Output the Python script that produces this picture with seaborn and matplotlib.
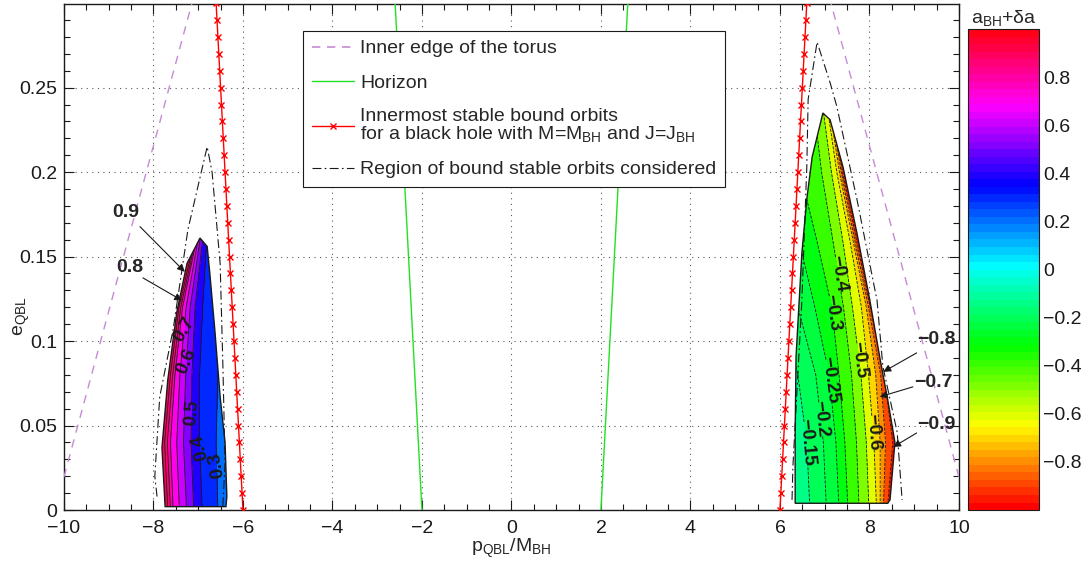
import numpy as np
import matplotlib
matplotlib.use('Agg')
import matplotlib.pyplot as plt
from matplotlib.colors import ListedColormap, Normalize
from matplotlib.patches import Polygon
from matplotlib.lines import Line2D
from matplotlib.ticker import MultipleLocator
import seaborn as sns

sns.set_theme(style='white')
plt.rcParams['font.family'] = ['Liberation Sans', 'DejaVu Sans']
plt.rcParams['mathtext.fontset'] = 'custom'
plt.rcParams['mathtext.rm'] = 'Liberation Sans'
plt.rcParams['mathtext.it'] = 'Liberation Sans:italic'
plt.rcParams['mathtext.bf'] = 'Liberation Sans:bold'

# ---- data ----
# inner edge of the torus (mirrored left / right)
torus_e = [0.0196, 0.10, 0.20, 0.30]
torus_p_right = [10.0, 9.18, 8.16, 7.14]
torus_p_left = [-10.0, -9.18, -8.16, -7.14]

# horizon
horizon_e = [0.0, 0.10, 0.20, 0.30]
horizon_p_right = [2.0, 2.2, 2.4, 2.6]
horizon_p_left = [-2.0, -2.2, -2.4, -2.6]

# innermost stable bound orbits (one marker every 0.01 in e)
isbo_e = [0.00, 0.01, 0.02, 0.03, 0.04, 0.05, 0.06, 0.07, 0.08, 0.09, 0.10,
          0.11, 0.12, 0.13, 0.14, 0.15, 0.16, 0.17, 0.18, 0.19, 0.20,
          0.21, 0.22, 0.23, 0.24, 0.25, 0.26, 0.27, 0.28, 0.29, 0.30]
isbo_p_right = [6.00, 6.02, 6.04, 6.06, 6.08, 6.10, 6.12, 6.14, 6.16, 6.18, 6.20,
                6.22, 6.24, 6.26, 6.28, 6.30, 6.32, 6.34, 6.36, 6.38, 6.40,
                6.42, 6.44, 6.46, 6.48, 6.50, 6.52, 6.54, 6.56, 6.58, 6.60]
isbo_p_left = [-6.00, -6.02, -6.04, -6.06, -6.08, -6.10, -6.12, -6.14, -6.16, -6.18, -6.20,
               -6.22, -6.24, -6.26, -6.28, -6.30, -6.32, -6.34, -6.36, -6.38, -6.40,
               -6.42, -6.44, -6.46, -6.48, -6.50, -6.52, -6.54, -6.56, -6.58, -6.60]

# region of bound stable orbits considered (dash-dot)
region_l_p = [-7.92, -7.97, -7.86, -7.56, -7.23, -6.80, -6.69, -6.51, -6.45, -6.40, -6.45]
region_l_e = [0.008, 0.020, 0.067, 0.107, 0.166, 0.215, 0.200, 0.146, 0.087, 0.028, 0.002]
region_r_p = [6.27, 6.29, 6.49, 6.60, 6.63, 6.83, 7.12, 7.27, 7.72, 8.17, 8.30, 8.62, 8.73]
region_r_e = [0.006, 0.026, 0.124, 0.203, 0.243, 0.277, 0.253, 0.239, 0.184, 0.124, 0.085, 0.046, 0.006]

# outlines of the two coloured patches
patch_l_p = [-7.74, -7.81, -7.68, -7.48, -7.25, -6.96, -6.80, -6.74, -6.63, -6.51, -6.40, -6.36, -6.38]
patch_l_e = [0.002, 0.037, 0.077, 0.117, 0.146, 0.161, 0.156, 0.140, 0.107, 0.067, 0.040, 0.008, 0.002]
patch_r_p = [6.34, 6.34, 6.36, 6.49, 6.60, 6.72, 6.96, 7.12, 7.41, 7.72, 8.01, 8.24, 8.41, 8.57, 8.46, 8.41]
patch_r_e = [0.004, 0.046, 0.091, 0.152, 0.184, 0.209, 0.235, 0.231, 0.203, 0.164, 0.124, 0.089, 0.065, 0.040, 0.006, 0.004]

# a_BH+da : p position of each contour value along rows of constant e
left_rows_e = [0.0, 0.04, 0.08, 0.12, 0.165]
left_vals = [1.0, 0.9, 0.85, 0.8, 0.7, 0.6, 0.5, 0.4, 0.3, 0.2]
left_rows_p = [
    [-7.85, -7.68, -7.62, -7.56, -7.42, -7.26, -7.10, -6.91, -6.56, -6.25],
    [-7.92, -7.75, -7.69, -7.62, -7.48, -7.33, -7.16, -6.97, -6.60, -6.30],
    [-7.78, -7.62, -7.57, -7.52, -7.41, -7.28, -7.14, -6.97, -6.56, -6.35],
    [-7.56, -7.43, -7.39, -7.35, -7.27, -7.18, -7.07, -6.90, -6.55, -6.40],
    [-7.10, -7.04, -7.02, -7.00, -6.97, -6.93, -6.88, -6.80, -6.55, -6.45],
]
left_lines = [0.3, 0.4, 0.5, 0.6, 0.7, 0.8, 0.85, 0.9]

right_rows_e = [0.0, 0.04, 0.08, 0.12, 0.16, 0.20, 0.24]
right_vals = [-0.1, -0.15, -0.2, -0.25, -0.3, -0.4, -0.5, -0.6, -0.7, -0.8, -0.9, -1.0]
right_rows_p = [
    [6.22, 6.67, 7.04, 7.32, 7.52, 7.77, 7.99, 8.16, 8.24, 8.31, 8.40, 8.62],
    [6.12, 6.60, 6.97, 7.25, 7.45, 7.71, 7.93, 8.10, 8.24, 8.36, 8.52, 8.72],
    [5.90, 6.40, 6.80, 7.10, 7.32, 7.60, 7.81, 7.98, 8.14, 8.25, 8.33, 8.52],
    [5.60, 6.05, 6.40, 6.78, 7.16, 7.42, 7.62, 7.82, 7.93, 7.98, 8.02, 8.18],
    [5.30, 5.70, 6.05, 6.42, 6.82, 7.18, 7.40, 7.56, 7.63, 7.67, 7.71, 7.85],
    [5.20, 5.55, 5.85, 6.15, 6.45, 6.93, 7.15, 7.27, 7.33, 7.37, 7.40, 7.52],
    [5.30, 5.60, 5.90, 6.20, 6.50, 6.75, 6.95, 7.05, 7.10, 7.13, 7.15, 7.27],
]
right_lines = [-0.9, -0.8, -0.7, -0.6, -0.5, -0.4, -0.3, -0.25, -0.2, -0.15]

cbar_ticks = [-0.8, -0.6, -0.4, -0.2, 0, 0.2, 0.4, 0.6, 0.8]

# inline label spots (level -> point on that line)
left_lab = {0.3: (-6.55, 0.028), 0.4: (-6.94, 0.038), 0.5: (-7.17, 0.058),
            0.6: (-7.26, 0.088), 0.7: (-7.32, 0.107)}
right_lab = {-0.15: (6.63, 0.040), -0.2: (6.93, 0.054), -0.25: (7.12, 0.077),
             -0.3: (7.16, 0.117), -0.4: (7.30, 0.140), -0.5: (7.78, 0.089),
             -0.6: (8.07, 0.046)}

# ---- figure ----
fs = 14
fig = plt.figure(figsize=(10.86, 5.75), dpi=100)
ax = fig.add_axes([0.0589, 0.1130, 0.8241, 0.88])
cax = fig.add_axes([0.8913, 0.1130, 0.0654, 0.8365])

cmap = ListedColormap(plt.cm.hsv(np.linspace(0, 1, 64)))
norm = Normalize(-1, 1)


def minus(s):
    return s.replace('-', '\u2212')


def fmt_level(v):
    return minus(f'{round(v, 2):g}')


def draw_patch(rows_p, rows_e, vals, edges, lows, out_p, out_e, lines, labs, upward):
    P = np.array(rows_p)
    E = np.repeat(np.array(rows_e)[:, None], P.shape[1], axis=1)
    A = np.tile(np.array(vals), (P.shape[0], 1))
    xy = np.column_stack([out_p, out_e])
    clip = Polygon(xy, closed=True, transform=ax.transData)
    cf = ax.contourf(P, E, A, levels=edges,
                     colors=[cmap(norm(v)) for v in lows], zorder=1)
    cf.set_clip_path(clip)
    plain = sorted(v for v in lines if v not in labs)
    cl = ax.contour(P, E, A, levels=plain, colors='k', linewidths=0.6, zorder=2)
    cl.set_clip_path(clip)
    for lv, pos in labs.items():
        c1 = ax.contour(P, E, A, levels=[lv], colors='k', linewidths=0.6, zorder=2)
        c1.set_clip_path(clip)
        txts = c1.clabel(manual=[pos], fmt=fmt_level, fontsize=13.5,
                         inline=True, inline_spacing=2, colors='k')
        for t in txts:
            t.set_fontweight('bold')
            r = t.get_rotation() % 360
            # left patch labels read upwards, right patch labels downwards
            if upward and r > 180:
                t.set_rotation(r - 180)
            elif not upward and r < 180:
                t.set_rotation(r + 180)
    ax.add_patch(Polygon(xy, closed=True, fill=False, ec='k', lw=1.0, zorder=3))


draw_patch(left_rows_p, left_rows_e, left_vals,
           [0.15, 0.3, 0.4, 0.5, 0.6, 0.7, 0.8, 0.85, 0.9, 1.05],
           [0.2, 0.3, 0.4, 0.5, 0.6, 0.7, 0.8, 0.85, 0.9],
           patch_l_p, patch_l_e, left_lines, left_lab, True)
draw_patch(right_rows_p, right_rows_e, right_vals,
           [-1.05, -0.9, -0.8, -0.7, -0.6, -0.5, -0.4, -0.3, -0.25, -0.2, -0.15, -0.05],
           [-1.0, -0.9, -0.8, -0.7, -0.6, -0.5, -0.4, -0.3, -0.25, -0.2, -0.15],
           patch_r_p, patch_r_e, right_lines, right_lab, False)

# arrow labels
arrow_txt = ['0.9', '0.8', '-0.8', '-0.7', '-0.9']
arrow_txt_xy = [(-8.62, 0.176), (-8.525, 0.1434), (9.50, 0.1007), (9.42, 0.0752), (9.50, 0.0504)]
arrow_tail = [(-8.30, 0.1677), (-8.235, 0.1374), (9.055, 0.093), (8.97, 0.0729), (9.055, 0.0456)]
arrow_tip = [(-7.30, 0.141), (-7.36, 0.124), (8.31, 0.0818), (8.23, 0.067), (8.53, 0.0373)]
for s, txy, tail, tip in zip(arrow_txt, arrow_txt_xy, arrow_tail, arrow_tip):
    ax.text(txy[0], txy[1], minus(s), fontsize=fs, fontweight='bold',
            ha='center', va='center', zorder=6)
    ax.annotate('', xy=tip, xytext=tail, zorder=6,
                arrowprops=dict(arrowstyle='-|>', color='k', lw=0.8,
                                mutation_scale=11, shrinkA=0, shrinkB=0))

# curves
torus_c = '#c68ad6'
horizon_c = '#22e022'
dashdot = (0, (8, 3, 1.5, 3))
for tp in (torus_p_left, torus_p_right):
    sns.lineplot(x=tp, y=torus_e, sort=False, estimator=None, ax=ax,
                 color=torus_c, lw=1.0, ls=(0, (6, 5)), zorder=4)
for hp in (horizon_p_left, horizon_p_right):
    sns.lineplot(x=hp, y=horizon_e, sort=False, estimator=None, ax=ax,
                 color=horizon_c, lw=1.0, zorder=4)
for rp, re in ((region_l_p, region_l_e), (region_r_p, region_r_e)):
    sns.lineplot(x=rp, y=re, sort=False, estimator=None, ax=ax,
                 color='k', lw=0.8, ls=dashdot, zorder=4)
for ip in (isbo_p_left, isbo_p_right):
    sns.lineplot(x=ip, y=isbo_e, sort=False, estimator=None, ax=ax,
                 color='red', lw=1.0, marker='x', markersize=5,
                 markeredgecolor='red', markeredgewidth=1.0, zorder=5)

# axes cosmetics
ax.set_xlim(-10, 10)
ax.set_ylim(0, 0.2995)
xt = list(range(-10, 11, 2))
ax.set_xticks(xt)
ax.set_xticklabels([minus(str(v)) for v in xt])
yt = [0, 0.05, 0.1, 0.15, 0.2, 0.25]
ax.set_yticks(yt)
ax.set_yticklabels([f'{v:g}' for v in yt])
ax.xaxis.set_minor_locator(MultipleLocator(0.5))
ax.yaxis.set_minor_locator(MultipleLocator(0.01))
ax.tick_params(which='both', direction='in', top=True, right=True,
               bottom=True, left=True, colors='k', labelsize=fs)
ax.tick_params(which='major', length=7, width=0.8)
ax.tick_params(axis='y', which='major', pad=5)
ax.tick_params(axis='x', which='major', pad=7)
ax.tick_params(which='minor', length=4, width=0.8)
ax.grid(True, which='major', linestyle=(0, (1, 4)), color='0.35', linewidth=0.8)
ax.set_axisbelow(True)
for sp in ax.spines.values():
    sp.set_color('k')
    sp.set_linewidth(1.0)
ax.set_xlabel('p$_{\\mathrm{QBL}}$/M$_{\\mathrm{BH}}$', fontsize=fs, labelpad=0)
ax.set_ylabel('e$_{\\mathrm{QBL}}$', fontsize=fs)
ax.yaxis.set_label_coords(-0.036, 0.383)

handles = [
    Line2D([], [], color=torus_c, lw=1.2, ls=(0, (5, 4))),
    Line2D([], [], color=horizon_c, lw=1.0),
    Line2D([], [], color='red', lw=1.0, marker='x', ms=5, mew=1.0),
    Line2D([], [], color='k', lw=0.8, ls=dashdot),
]
labels = ['Inner edge of the torus', 'Horizon',
          'Innermost stable bound orbits\nfor a black hole with '
          'M=M$_{\\mathrm{BH}}$ and J=J$_{\\mathrm{BH}}$',
          'Region of bound stable orbits considered']
leg = ax.legend(handles, labels, loc='upper left', bbox_to_anchor=(0.267, 0.9466),
                borderaxespad=0, fontsize=fs, frameon=True, fancybox=False,
                framealpha=1, edgecolor='k', handlelength=2.2, handletextpad=0.3,
                labelspacing=0.85, borderpad=0.45, numpoints=1)
leg.get_frame().set_linewidth(0.8)
leg.set_zorder(10)
for t in leg.get_texts():
    t.set_linespacing(0.95)

# colour bar
sm = plt.cm.ScalarMappable(norm=norm, cmap=cmap)
cb = fig.colorbar(sm, cax=cax)
cb.set_ticks(cbar_ticks)
cb.set_ticklabels([minus(f'{v:g}') for v in cbar_ticks])
cax.tick_params(direction='in', left=True, right=True, length=4, width=0.8,
                colors='k', labelsize=fs, pad=3)
cb.outline.set_linewidth(0.8)
cb.outline.set_edgecolor('k')
cax.set_title('a$_{\\mathrm{BH}}$+\u03b4a', fontsize=fs, pad=4)

fig.savefig('out.png', dpi=100)
